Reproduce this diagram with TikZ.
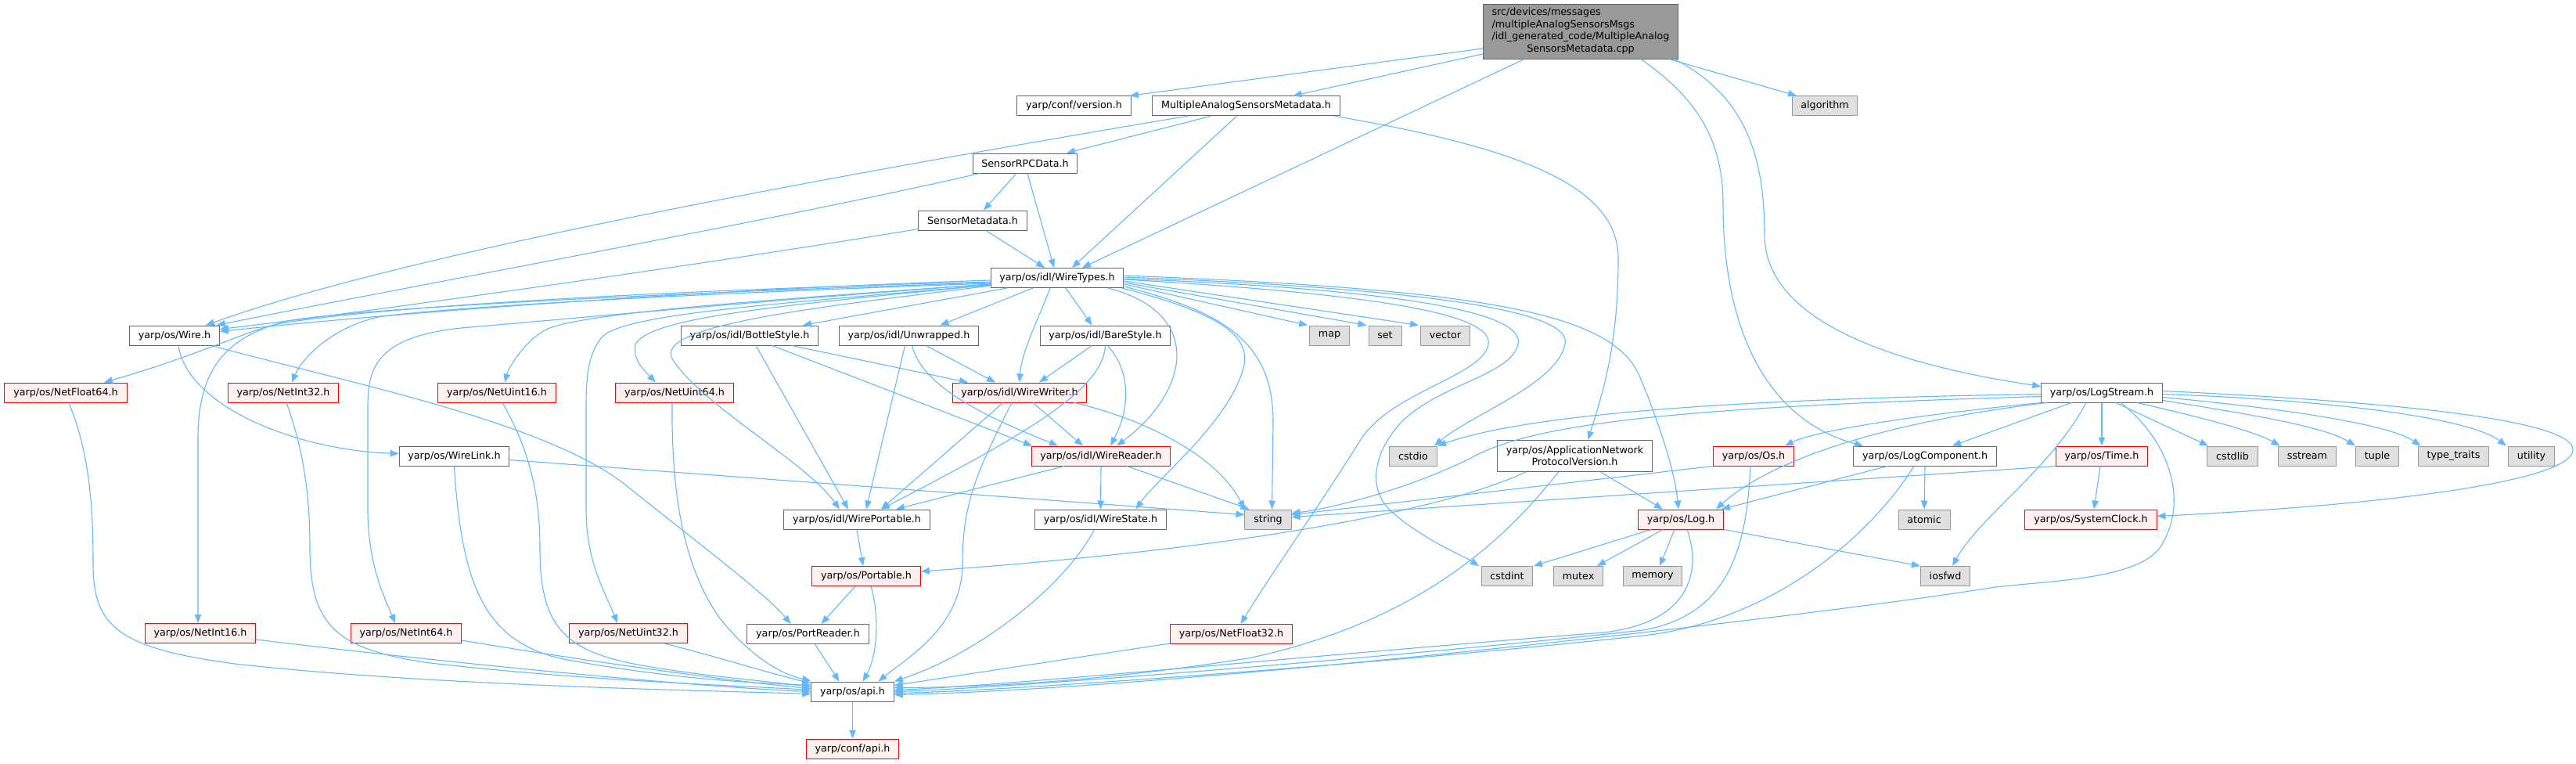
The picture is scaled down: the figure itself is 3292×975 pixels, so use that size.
\documentclass[tikz,border=0pt]{standalone}
\usepackage{fontspec}
\setmainfont{DejaVu Sans}
\usetikzlibrary{arrows.meta}
\definecolor{edgec}{HTML}{63B8FF}
\definecolor{bordw}{HTML}{666666}
\definecolor{fillr}{HTML}{FFF0F0}
\definecolor{bordr}{HTML}{FF0000}
\definecolor{fillg}{HTML}{E0E0E0}
\definecolor{bordg}{HTML}{999999}
\definecolor{fillm}{HTML}{999999}
\begin{document}
\begin{tikzpicture}[x=1pt,y=-1pt,
  nd/.style={draw, rectangle, line width=1pt, font=\fontsize{12.7}{15.5}\selectfont, inner xsep=11.3pt, inner ysep=2pt, minimum height=25pt},
  wn/.style={nd, fill=white, draw=bordw},
  rn/.style={nd, fill=fillr, draw=bordr},
  gn/.style={nd, fill=fillg, draw=bordg},
  mn/.style={nd, fill=fillm, draw=bordw, minimum height=70pt},
  edg/.style={draw=edgec, line width=1.1pt, -{Triangle[length=11pt,width=8.5pt]}},
]
\useasboundingbox (0,0) rectangle (3292,975);
\fill[white] (0,0) rectangle (3292,975);

% ---------- nodes ----------
\node[mn] (main) at (2020,40) {\begin{tabular}{@{}l@{}}src/devices/messages\\/multipleAnalogSensorsMsgs\\/idl\_generated\_code/MultipleAnalog\\\multicolumn{1}{@{}c@{}}{SensorsMetadata.cpp}\end{tabular}};
\node[wn] (ver) at (1372.5,135.3) {yarp/conf/version.h};
\node[wn] (masm) at (1592.5,135.3) {MultipleAnalogSensorsMetadata.h};
\node[gn] (algo) at (2332,135.3) {algorithm};
\node[wn] (rpc) at (1310,208.5) {SensorRPCData.h};
\node[wn] (smeta) at (1243,281.5) {SensorMetadata.h};
\node[wn] (wt) at (1351,355) {yarp/os/idl/WireTypes.h};
\node[wn] (wire) at (223,428.5) {yarp/os/Wire.h};
\node[wn] (bottle) at (958,428.5) {yarp/os/idl/BottleStyle.h};
\node[wn] (unwr) at (1161.5,428.5) {yarp/os/idl/Unwrapped.h};
\node[wn] (bare) at (1412.5,428.5) {yarp/os/idl/BareStyle.h};
\node[gn] (map) at (1699,428.5) {map};
\node[gn] (setn) at (1770,428.5) {set};
\node[gn] (vec) at (1847,428.5) {vector};
\node[rn] (nf64) at (84,501.5) {yarp/os/NetFloat64.h};
\node[rn] (ni32) at (362,501.5) {yarp/os/NetInt32.h};
\node[rn] (nu16) at (635,501.5) {yarp/os/NetUint16.h};
\node[rn] (nu64) at (862,501.5) {yarp/os/NetUint64.h};
\node[rn] (ww) at (1303,501.5) {yarp/os/idl/WireWriter.h};
\node[wn] (ls) at (2686,501.5) {yarp/os/LogStream.h};
\node[wn] (wlink) at (580.5,582.5) {yarp/os/WireLink.h};
\node[rn] (wr) at (1407,582.5) {yarp/os/idl/WireReader.h};
\node[gn] (cstdio) at (1806,582.5) {cstdio};
\node[wn, align=center, minimum height=40pt] (anpv) at (2012.5,582.5) {yarp/os/ApplicationNetwork\\ProtocolVersion.h};
\node[rn] (os) at (2241,582.5) {yarp/os/Os.h};
\node[wn] (lc) at (2460,582.5) {yarp/os/LogComponent.h};
\node[rn] (time) at (2686,582.5) {yarp/os/Time.h};
\node[gn] (cstdlib) at (2853,582.5) {cstdlib};
\node[gn] (sstream) at (2948.5,582.5) {sstream};
\node[gn] (tuple) at (3038,582.5) {tuple};
\node[gn] (ttraits) at (3135.5,582.5) {type\_traits};
\node[gn] (utility) at (3235,582.5) {utility};
\node[wn] (wp) at (1095,663.5) {yarp/os/idl/WirePortable.h};
\node[wn] (ws) at (1406.5,663.5) {yarp/os/idl/WireState.h};
\node[gn] (string) at (1620.5,663.5) {string};
\node[rn] (log) at (2148,663.5) {yarp/os/Log.h};
\node[gn] (atomic) at (2459,663.5) {atomic};
\node[rn] (sclock) at (2672,663.5) {yarp/os/SystemClock.h};
\node[rn] (portable) at (1107,736) {yarp/os/Portable.h};
\node[gn] (cstdint) at (1926,736) {cstdint};
\node[gn] (mutex) at (2017,736) {mutex};
\node[gn] (memory) at (2112,736) {memory};
\node[gn] (iosfwd) at (2486,736) {iosfwd};
\node[rn] (ni16) at (256,809) {yarp/os/NetInt16.h};
\node[rn] (ni64) at (519,809) {yarp/os/NetInt64.h};
\node[rn] (nu32) at (803,809) {yarp/os/NetUint32.h};
\node[wn] (preader) at (1032.5,810) {yarp/os/PortReader.h};
\node[rn] (nf32) at (1573.5,810) {yarp/os/NetFloat32.h};
\node[wn] (api) at (1089.5,883.5) {yarp/os/api.h};
\node[rn] (capi) at (1089.5,956.5) {yarp/conf/api.h};

% ---------- edges: main ----------
\draw[edg] ([yshift=-22pt]main.west) -- ([xshift=-2pt]ver.north east);
\draw[edg] ([yshift=-29pt]main.west) -- ([xshift=60pt]masm.north);
\draw[edg] ([xshift=-72pt]main.south) -- ([xshift=32pt]wt.north);
\draw[edg] ([xshift=113pt]main.south) -- ([xshift=-36pt]algo.north);
\draw[edg] ([xshift=77pt]main.south) .. controls (2160,120) and (2202,170) .. (2202,260) .. controls (2202,440) and (2270,540) .. ([xshift=-79pt]lc.north);
\draw[edg] ([xshift=120pt]main.south) .. controls (2225,120) and (2255,190) .. (2255,300) .. controls (2255,420) and (2450,470) .. ([yshift=8pt]ls.west);

% ---------- masm ----------
\draw[edg] ([xshift=-75pt]masm.south) .. controls (1000,235) and (500,330) .. ([xshift=40pt]wire.north);
\draw[edg] ([xshift=-45pt]masm.south) -- ([xshift=53pt]rpc.north);
\draw[edg] ([xshift=-12pt]masm.south) -- ([xshift=19pt]wt.north);
\draw[edg] ([xshift=113pt]masm.south) .. controls (1950,190) and (2068,240) .. (2068,330) .. controls (2068,450) and (2045,510) .. ([xshift=17pt]anpv.north);

% ---------- rpc / smeta ----------
\draw[edg] ([xshift=-58pt]rpc.south) .. controls (1000,280) and (500,370) .. ([xshift=-4pt]wire.north east);
\draw[edg] ([xshift=-11pt]rpc.south) -- ([xshift=14pt]smeta.north);
\draw[edg] ([xshift=3pt]rpc.south) -- ([xshift=-4pt]wt.north);
\draw[edg] ([yshift=2pt]smeta.south west) .. controls (950,330) and (500,395) .. ([yshift=8pt]wire.east);
\draw[edg] ([xshift=17pt]smeta.south) -- ([xshift=-16pt]wt.north);

% ---------- WireTypes ----------
\draw[edg] ([yshift=-3pt]wt.west) .. controls (900,370) and (500,400) .. ([yshift=5pt]wire.east);
\draw[edg] ([yshift=-5pt]wt.west) .. controls (800,372) and (450,395) .. (350,415) .. controls (310,425) and (250,455) .. ([xshift=49pt]nf64.north);
\draw[edg] ([yshift=-6pt]wt.west) .. controls (800,376) and (450,395) .. (367,410) .. controls (290,430) and (253,470) .. (253,560) -- ([xshift=-3pt]ni16.north);
\draw[edg] ([yshift=-7pt]wt.west) .. controls (800,378) and (550,395) .. (483,405) .. controls (420,420) and (385,460) .. ([xshift=11pt]ni32.north);
\draw[edg] ([yshift=-8pt]wt.west) .. controls (900,390) and (700,410) .. (600,418) .. controls (480,428) and (470,470) .. (470,520) -- (470,650) .. controls (470,720) and (490,760) .. ([xshift=-14pt]ni64.north);
\draw[edg] ([yshift=-8pt]wt.west) .. controls (950,385) and (750,400) .. (700,420) .. controls (670,435) and (650,470) .. ([xshift=10pt]nu16.north);
\draw[edg] ([yshift=-9pt]wt.west) .. controls (1000,390) and (830,405) .. (812,440) .. controls (808,460) and (825,475) .. ([xshift=-24pt]nu64.north);
\draw[edg] ([yshift=-9pt]wt.west) .. controls (1000,388) and (800,400) .. (770,430) .. controls (752,450) and (749,480) .. (749,520) -- (749,650) .. controls (749,720) and (775,760) .. ([xshift=-14pt]nu32.north);
\draw[edg] ([yshift=-10pt]wt.west) .. controls (1050,392) and (830,415) .. (860,460) .. controls (900,520) and (1030,590) .. ([xshift=-22pt]wp.north);
\draw[edg] ([xshift=-64pt]wt.south) -- ([xshift=68pt]bottle.north);
\draw[edg] ([xshift=-31pt]wt.south) -- ([xshift=40pt]unwr.north);
\draw[edg] ([xshift=-9pt]wt.south) .. controls (1330,400) and (1305,450) .. (ww.north);
\draw[edg] ([xshift=11pt]wt.south) -- ([xshift=-17pt]bare.north);
\draw[edg] ([xshift=65pt]wt.south) .. controls (1540,400) and (1520,500) .. ([xshift=20pt]wr.north);
\draw[edg] ([xshift=-3pt]wt.south east) .. controls (1560,400) and (1600,430) .. (1589,470) .. controls (1570,540) and (1480,610) .. ([xshift=45pt]ws.north);
\draw[edg] ([yshift=2pt]wt.south east) .. controls (1570,400) and (1627,440) .. (1627,540) -- ([xshift=5pt]string.north);
\draw[edg] ([yshift=-8pt]wt.east) -- ([xshift=-2pt]map.north west);
\draw[edg] ([yshift=-6pt]wt.east) -- ([xshift=-2pt]setn.north west);
\draw[edg] ([yshift=-4pt]wt.east) -- ([xshift=-2pt]vec.north west);
\draw[edg] ([yshift=-2pt]wt.east) .. controls (1750,375) and (1910,400) .. (1902,440) .. controls (1895,480) and (1780,500) .. (1740,560) .. controls (1690,640) and (1620,740) .. ([xshift=12pt]nf32.north);
\draw[edg] ([yshift=-1pt]wt.east) .. controls (1800,370) and (1950,400) .. (1940,440) .. controls (1930,480) and (1840,490) .. (1790,540) .. controls (1750,585) and (1750,630) .. (1780,655) .. controls (1820,690) and (1870,710) .. ([xshift=-36pt]cstdint.north);
\draw[edg] ([yshift=1pt]wt.east) .. controls (1850,370) and (2010,400) .. (2000,440) .. controls (1990,490) and (1880,530) .. ([xshift=27pt]cstdio.north);
\draw[edg] ([yshift=3pt]wt.east) .. controls (1900,370) and (2060,400) .. (2095,480) .. controls (2120,540) and (2140,600) .. ([xshift=-3pt]log.north);

% ---------- Wire / WireLink ----------
\draw[edg] ([xshift=5pt]wire.south) .. controls (240,520) and (380,575) .. ([yshift=3pt]wlink.west);
\draw[edg] ([xshift=47pt]wire.south) .. controls (450,490) and (700,540) .. (800,620) .. controls (900,700) and (980,760) .. ([xshift=-22pt]preader.north);
\draw[edg] (wlink.south) .. controls (590,750) and (620,820) .. (720,842) .. controls (850,866) and (950,872) .. ([yshift=8pt]api.west);
\draw[edg] ([yshift=-5pt]wlink.east) -- ([yshift=6pt]string.west);

% ---------- Net* -> api ----------
\draw[edg] ([xshift=4pt]nf64.south) .. controls (115,580) and (119,650) .. (119,720) .. controls (119,800) and (150,828) .. (300,848) .. controls (550,876) and (900,882) .. ([yshift=-3pt]api.west);
\draw[edg] ([xshift=4pt]ni32.south) .. controls (390,580) and (396,640) .. (396,700) .. controls (396,800) and (430,830) .. (550,847) .. controls (750,870) and (950,876) .. ([yshift=2pt]api.west);
\draw[edg] ([xshift=7pt]nu16.south) .. controls (680,580) and (690,640) .. (690,700) .. controls (690,800) and (720,832) .. (820,850) .. controls (900,864) and (980,870) .. ([yshift=6pt]api.west);
\draw[edg] ([xshift=-3pt]nu64.south) .. controls (858,620) and (870,720) .. (920,790) .. controls (960,840) and (1000,862) .. ([yshift=14pt]api.west);
\draw[edg] ([yshift=-8pt]ni16.east) .. controls (600,850) and (900,878) .. (api.west);
\draw[edg] ([yshift=-9pt]ni64.east) .. controls (750,845) and (950,872) .. ([yshift=4pt]api.west);
\draw[edg] ([xshift=46pt]nu32.south) .. controls (920,840) and (990,862) .. ([yshift=11pt]api.west);

% ---------- lower middle ----------
\draw[edg] ([xshift=9pt]preader.south) -- ([xshift=-17pt]api.north);
\draw[edg] ([xshift=-14pt]portable.south) -- ([xshift=17pt]preader.north);
\draw[edg] ([xshift=6pt]portable.south) .. controls (1125,790) and (1120,840) .. ([xshift=13pt]api.north);
\draw[edg] (wp.south) -- ([xshift=-4pt]portable.north);
\draw[edg] ([xshift=-10pt]ww.south) .. controls (1250,600) and (1230,640) .. (1230,720) .. controls (1230,800) and (1160,840) .. ([xshift=33pt]api.north);
\draw[edg] ([xshift=-8pt]ws.south) .. controls (1360,750) and (1250,835) .. (api.north east);
\draw[edg] ([yshift=1pt]nf32.south west) -- ([yshift=8pt]api.east);
\draw[edg] (api) -- (capi);

% ---------- ApplicationNetworkProtocolVersion ----------
\draw[edg] ([xshift=-21pt]anpv.south) .. controls (1900,720) and (1780,800) .. (1600,840) .. controls (1400,872) and (1250,878) .. ([yshift=5pt]api.east);
\draw[edg] ([xshift=-63pt]anpv.south) .. controls (1850,650) and (1600,700) .. ([yshift=6pt]portable.east);
\draw[edg] ([xshift=33pt]anpv.south) -- ([xshift=-23pt]log.north);

% ---------- Log ----------
\draw[edg] ([xshift=-38pt]log.south) -- ([xshift=34pt]cstdint.north);
\draw[edg] ([xshift=-23pt]log.south) -- ([xshift=24pt]mutex.north);
\draw[edg] ([xshift=-8pt]log.south) -- ([xshift=9pt]memory.north);
\draw[edg] (log.south east) -- (iosfwd.north west);
\draw[edg] ([xshift=8pt]log.south) .. controls (2175,730) and (2160,795) .. (2050,808) .. controls (1700,835) and (1300,875) .. ([yshift=2pt]api.east);

% ---------- Os / LogComponent / Time ----------
\draw[edg] ([xshift=-4pt]os.south) .. controls (2232,700) and (2210,785) .. (2100,805) .. controls (1800,838) and (1300,878) .. (api.east);
\draw[edg] (os.south west) -- ([yshift=6pt]string.east);
\draw[edg] ([xshift=-14pt]lc.south) .. controls (2380,700) and (2250,795) .. (2100,812) .. controls (1800,845) and (1300,882) .. ([yshift=-2pt]api.east);
\draw[edg] ([xshift=-48pt]lc.south) -- ([xshift=52pt]log.north);
\draw[edg] (lc.south) -- (atomic.north);
\draw[edg] (time.south west) -- ([yshift=3pt]string.east);
\draw[edg] ([xshift=-2pt]time.south) -- ([xshift=4pt]sclock.north);

% ---------- LogStream ----------
\draw[edg] (ls.south west) .. controls (2450,530) and (2320,550) .. ([xshift=40pt]os.north);
\draw[edg] ([xshift=-70pt]ls.south) .. controls (2400,540) and (2260,590) .. ([xshift=45pt]log.north);
\draw[edg] ([xshift=-39pt]ls.south) -- ([xshift=35pt]lc.north);
\draw[edg] (ls.south) -- (time.north);
\draw[edg] ([xshift=-20pt]ls.south) .. controls (2620,600) and (2530,660) .. ([xshift=9pt]iosfwd.north);
\draw[edg] ([xshift=18pt]ls.south) -- ([xshift=-31pt]cstdlib.north);
\draw[edg] ([xshift=45pt]ls.south) .. controls (2800,530) and (2880,550) .. ([xshift=-35pt]sstream.north);
\draw[edg] ([yshift=-10pt]ls.east) .. controls (2880,530) and (2970,545) .. ([xshift=-28pt]tuple.north);
\draw[edg] ([yshift=-6pt]ls.east) .. controls (2900,520) and (3050,540) .. ([xshift=-42pt]ttraits.north);
\draw[edg] ([yshift=-2pt]ls.east) .. controls (2950,510) and (3150,530) .. ([xshift=-32pt]utility.north);
\draw[edg] ([yshift=2pt]ls.east) .. controls (3100,515) and (3290,540) .. (3288,575) .. controls (3286,615) and (3050,645) .. ([yshift=4pt]sclock.east);
\draw[edg] ([xshift=24pt]ls.south) .. controls (2770,560) and (2800,640) .. (2760,700) .. controls (2730,740) and (2620,742) .. (2550,750) .. controls (2300,790) and (1500,880) .. ([yshift=-4pt]api.east);
\draw[edg] ([yshift=-2pt]ls.west) .. controls (2200,510) and (1950,530) .. ([xshift=31pt]cstdio.north);
\draw[edg] ([yshift=-5pt]ls.west) .. controls (2150,520) and (1960,540) .. (1880,585) .. controls (1800,625) and (1700,650) .. ([yshift=8pt]string.east);

% ---------- style headers ----------
\draw[edg] ([xshift=54pt]bottle.south) -- ([xshift=-66pt]ww.north);
\draw[edg] ([xshift=29pt]bottle.south) -- ([xshift=-88pt]wr.north);
\draw[edg] ([xshift=8pt]bottle.south) -- ([xshift=-11pt]wp.north);
\draw[edg] ([xshift=22pt]unwr.south) -- ([xshift=-31pt]ww.north);
\draw[edg] ([xshift=4pt]unwr.south) .. controls (1180,500) and (1280,540) .. ([xshift=-55pt]wr.north);
\draw[edg] ([xshift=-5pt]unwr.south) -- ([xshift=12pt]wp.north);
\draw[edg] ([xshift=-17pt]bare.south) -- ([xshift=25pt]ww.north);
\draw[edg] ([xshift=3pt]bare.south) .. controls (1450,480) and (1440,530) .. ([xshift=12pt]wr.north);
\draw[edg] (bare.south) .. controls (1410,500) and (1300,560) .. ([xshift=31pt]wp.north);

% ---------- WireWriter / WireReader ----------
\draw[edg] ([xshift=17pt]ww.south) -- ([xshift=-23pt]wr.north);
\draw[edg] ([xshift=-21pt]ww.south) -- ([xshift=31pt]wp.north);
\draw[edg] ([xshift=70pt]ww.south) .. controls (1480,540) and (1560,590) .. (string.north west);
\draw[edg] ([xshift=-47pt]wr.south) -- ([xshift=50pt]wp.north);
\draw[edg] (wr.south) -- (ws.north);
\draw[edg] ([xshift=33pt]wr.south) -- ([xshift=6pt]string.north west);
\end{tikzpicture}
\end{document}
